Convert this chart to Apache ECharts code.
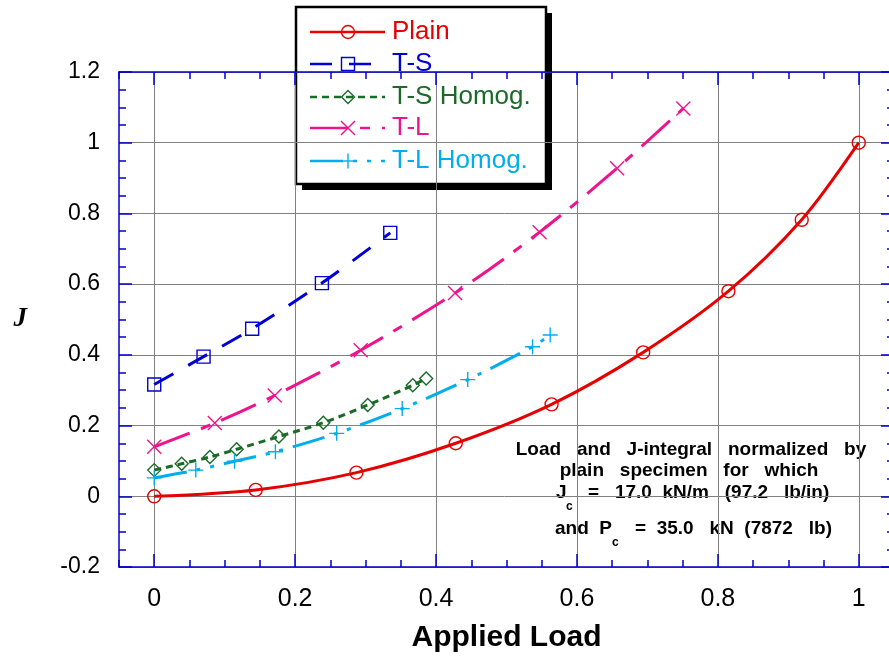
<!DOCTYPE html>
<html><head><meta charset="utf-8">
<script src="https://cdn.jsdelivr.net/npm/echarts@6/dist/echarts.min.js"></script>
<style>html,body{margin:0;padding:0;background:#fff}#c{width:889px;height:657px}</style>
</head><body><div id="c"></div>
<script>
// ---- data ----
const seriesNames = ['Plain', 'T-S', 'T-S Homog.', 'T-L', 'T-L Homog.'];
const xMajorTicks = [0, 0.2, 0.4, 0.6, 0.8, 1];
const plainX = [0, 0.144, 0.287, 0.428, 0.564, 0.694, 0.815, 0.919, 1.0];
const plainY = [0, 0.018, 0.067, 0.150, 0.260, 0.407, 0.580, 0.782, 1.0];
const tsX = [0, 0.070, 0.139, 0.238, 0.335];
const tsY = [0.316, 0.395, 0.474, 0.603, 0.745];
const tshX = [0, 0.039, 0.079, 0.117, 0.177, 0.240, 0.303, 0.367, 0.386];
const tshY = [0.074, 0.092, 0.111, 0.133, 0.169, 0.208, 0.258, 0.314, 0.333];
const tlX = [0, 0.086, 0.171, 0.293, 0.427, 0.547, 0.657, 0.751];
const tlY = [0.140, 0.207, 0.285, 0.413, 0.575, 0.747, 0.928, 1.097];
const tlhX = [0, 0.059, 0.114, 0.172, 0.259, 0.352, 0.445, 0.537, 0.562];
const tlhY = [0.052, 0.074, 0.099, 0.126, 0.178, 0.248, 0.330, 0.423, 0.456];
const noteLines = ['Load   and   J-integral   normalized   by', 'plain   specimen   for   which'];

// ---- styles ----
const colors = ['#e60000', '#0000d4', '#1a6b28', '#f0148c', '#00aeef'];
const dashes = ['solid', [22, 17], [7, 5], [38, 12, 10, 12], [33, 10, 4, 10, 4, 10]];
const symbols = ['circle', 'rect', 'diamond', 'path://M0,0L10,10M10,0L0,10', 'path://M5,0L5,10M0,5L10,5'];
const symSizes = [13, 13, 13, 14, 15];
const axisBlue = '#0000cc';
const F = 'Liberation Sans, Arial, sans-serif';

const zip = (xs, ys) => xs.map((x, i) => [x, ys[i]]);
const allData = [zip(plainX, plainY), zip(tsX, tsY), zip(tshX, tshY), zip(tlX, tlY), zip(tlhX, tlhY)];

const tickStyle = { color: axisBlue, width: 1.5 };
function xAxisMinor(pos) {
  return { type: 'value', position: pos, min: -0.05, max: 1.05, interval: 0.05,
    axisLine: { show: true, onZero: false, lineStyle: { color: axisBlue, width: 1.5 } },
    axisTick: { show: true, inside: true, length: 7, lineStyle: tickStyle },
    axisLabel: { show: false }, splitLine: { show: false } };
}
function xAxisMajor(pos, labels) {
  const a = { type: 'value', position: pos, min: -0.05, max: 1.05,
    axisLine: { show: false, onZero: false },
    axisTick: { show: true, inside: true, length: 13, customValues: xMajorTicks, lineStyle: tickStyle },
    axisLabel: { show: labels, customValues: xMajorTicks, margin: 20, color: '#000', fontFamily: F, fontSize: 25,
      formatter: v => String(+v.toFixed(2)) },
    splitLine: { show: labels, lineStyle: { color: '#808080', width: 1 } } };
  if (labels) {
    a.name = 'Applied Load'; a.nameLocation = 'middle'; a.nameGap = 56;
    a.nameTextStyle = { fontFamily: F, fontWeight: 'bold', fontSize: 30, color: '#000' };
  }
  return a;
}
function yAxis(pos, labels) {
  const a = { type: 'value', position: pos, min: -0.2, max: 1.2, interval: 0.2,
    axisLine: { show: true, onZero: false, lineStyle: { color: axisBlue, width: 1.5 } },
    axisTick: { show: true, inside: true, length: 13, lineStyle: tickStyle },
    minorTick: { show: true, splitNumber: 4, length: 7, lineStyle: tickStyle },
    axisLabel: { show: labels, margin: 19, color: '#000', fontFamily: F, fontSize: 23,
      formatter: v => String(+v.toFixed(2)) },
    splitLine: { show: labels, lineStyle: { color: '#808080', width: 1 } } };
  if (labels) {
    a.name = 'J'; a.nameLocation = 'middle'; a.nameGap = 92; a.nameRotate = 0;
    a.nameTextStyle = { fontFamily: 'Liberation Serif, Times New Roman, serif', fontWeight: 'bold', fontStyle: 'italic', fontSize: 27, color: '#000' };
  }
  return a;
}

const series = allData.map((d, i) => ({
  name: seriesNames[i], type: 'line', data: d, xAxisIndex: 0, yAxisIndex: 0,
  smooth: 0.3, symbol: symbols[i], symbolSize: symSizes[i], showSymbol: true,
  lineStyle: { color: colors[i], width: 3, type: dashes[i] },
  itemStyle: { color: 'none', borderColor: colors[i], borderWidth: 1.4 },
  emphasis: { disabled: true }, z: 3 + i
}));

// ---- legend (graphic) ----
const lgX = 296, lgY = 7, lgW = 250, lgH = 177;
const rowY = [32, 64, 97, 128, 161];
const lgEls = [
  { type: 'rect', shape: { x: lgX + 6, y: lgY + 6, width: lgW, height: lgH }, style: { fill: '#000' } },
  { type: 'rect', shape: { x: lgX, y: lgY, width: lgW, height: lgH }, style: { fill: '#fff', stroke: '#000', lineWidth: 2.5 } }
];
function markerEls(i, cx, cy) {
  const st = { fill: 'none', stroke: colors[i], lineWidth: 1.4 };
  const h = 6.5;
  if (i === 0) return [{ type: 'circle', shape: { cx, cy, r: h }, style: st }];
  if (i === 1) return [{ type: 'rect', shape: { x: cx - h, y: cy - h, width: 2 * h, height: 2 * h }, style: st }];
  if (i === 2) return [{ type: 'polygon', shape: { points: [[cx, cy - h], [cx + h, cy], [cx, cy + h], [cx - h, cy]] }, style: st }];
  if (i === 3) return [{ type: 'line', shape: { x1: cx - 7, y1: cy - 7, x2: cx + 7, y2: cy + 7 }, style: st },
                       { type: 'line', shape: { x1: cx + 7, y1: cy - 7, x2: cx - 7, y2: cy + 7 }, style: st }];
  return [{ type: 'line', shape: { x1: cx, y1: cy - 7.5, x2: cx, y2: cy + 7.5 }, style: st },
          { type: 'line', shape: { x1: cx - 7.5, y1: cy, x2: cx + 7.5, y2: cy }, style: st }];
}
seriesNames.forEach((n, i) => {
  const y = rowY[i];
  lgEls.push({ type: 'line', shape: { x1: 310, y1: y, x2: 385, y2: y },
    style: { stroke: colors[i], lineWidth: 2.5, lineDash: dashes[i] === 'solid' ? null : dashes[i] } });
  markerEls(i, 348, y).forEach(e => lgEls.push(e));
  lgEls.push({ type: 'text', x: 392, y: y, style: { text: n, fill: colors[i], font: '26px ' + F, textVerticalAlign: 'middle' } });
});

// ---- annotation ----
const noteFont = 'bold 19px ' + F;
const subFont = 'bold 12px ' + F;
const noteEls = [
  { type: 'text', x: 691, y: 450, style: { text: noteLines[0], font: noteFont, fill: '#000', textAlign: 'center', textVerticalAlign: 'middle' } },
  { type: 'text', x: 689, y: 471, style: { text: noteLines[1], font: noteFont, fill: '#000', textAlign: 'center', textVerticalAlign: 'middle' } },
  { type: 'text', x: 556, y: 493, style: { text: 'J', font: noteFont, fill: '#000', textVerticalAlign: 'middle' } },
  { type: 'text', x: 566, y: 507, style: { text: 'c', font: subFont, fill: '#000', textVerticalAlign: 'middle' } },
  { type: 'text', x: 588, y: 493, style: { text: '=   17.0  kN/m   (97.2   lb/in)', font: noteFont, fill: '#000', textVerticalAlign: 'middle' } },
  { type: 'text', x: 555, y: 529, style: { text: 'and  P', font: noteFont, fill: '#000', textVerticalAlign: 'middle' } },
  { type: 'text', x: 612, y: 543, style: { text: 'c', font: subFont, fill: '#000', textVerticalAlign: 'middle' } },
  { type: 'text', x: 635, y: 529, style: { text: '=  35.0   kN  (7872   lb)', font: noteFont, fill: '#000', textVerticalAlign: 'middle' } }
];

const chart = echarts.init(document.getElementById('c'), null, { renderer: 'canvas' });
chart.setOption({
  animation: false,
  backgroundColor: '#fff',
  grid: { left: 119, top: 72, width: 775, height: 495, containLabel: false, outerBoundsMode: 'none' },
  xAxis: [xAxisMinor('bottom'), xAxisMajor('bottom', true), xAxisMinor('top'), xAxisMajor('top', false)],
  yAxis: [yAxis('left', true), yAxis('right', false)],
  series: series,
  graphic: [
    { type: 'group', z: 100, children: lgEls },
    { type: 'group', z: 100, children: noteEls }
  ]
});
</script></body></html>
